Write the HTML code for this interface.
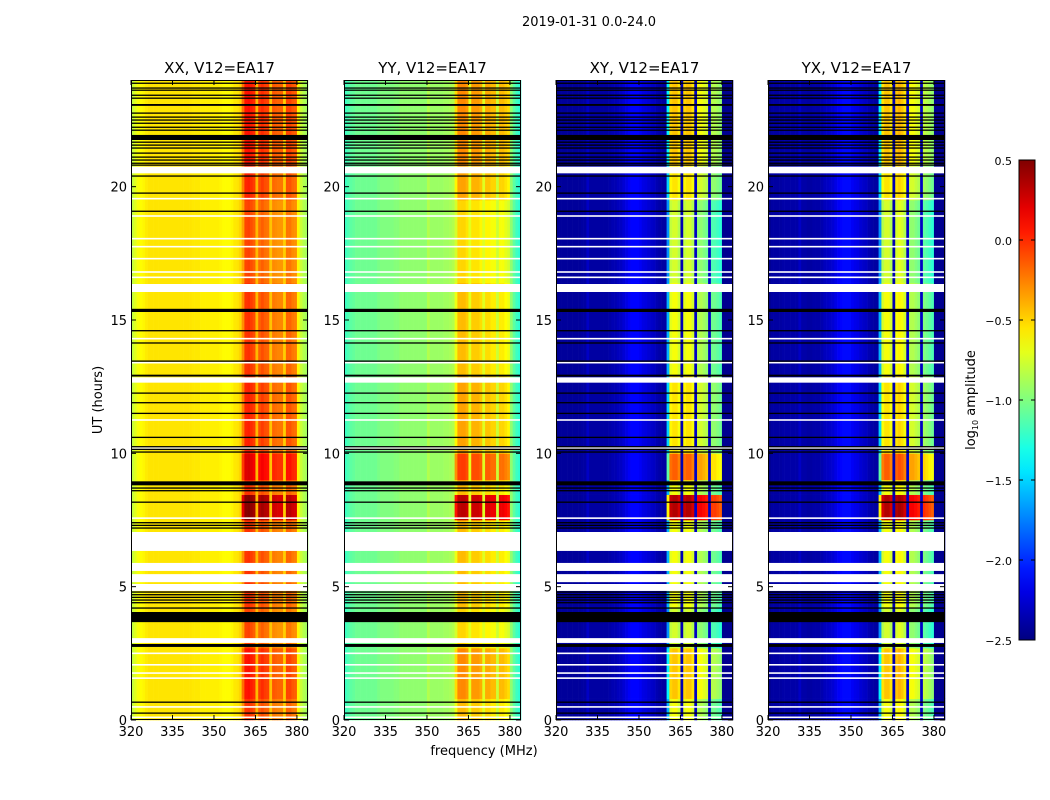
<!DOCTYPE html>
<html><head><meta charset="utf-8">
<style>
body{margin:0;background:#fff;width:1050px;height:800px;overflow:hidden;font-family:"DejaVu Sans","Liberation Sans",sans-serif;}
svg{position:absolute;left:0;top:0}
</style></head>
<body>
<svg id="fig" width="1050" height="800" xmlns="http://www.w3.org/2000/svg">
<text x="589" y="26" font-size="13" text-anchor="middle">2019-01-31 0.0-24.0</text>
<text x="484" y="755" font-size="13" text-anchor="middle">frequency (MHz)</text>
<text transform="translate(102,400) rotate(-90)" font-size="13" text-anchor="middle">UT (hours)</text>
<text transform="translate(975,400) rotate(-90)" font-size="13" text-anchor="middle">log<tspan font-size="8" dy="3">10</tspan><tspan dy="-3"> amplitude</tspan></text>
<g id="panels"></g>
<g id="cbar"></g>
</svg>
<script>
const panelTitles=["XX, V12=EA17","YY, V12=EA17","XY, V12=EA17","YX, V12=EA17"];
const xTicks=[320,335,350,365,380];
const yTicks=[0,5,10,15,20];
const cbarTicks=[0.5,0.0,-0.5,-1.0,-1.5,-2.0,-2.5];
const cbarLabels=["0.5","0.0","\u22120.5","\u22121.0","\u22121.5","\u22122.0","\u22122.5"];
const specXX=[-0.8,-0.72,-0.65,-0.62,-0.6,-0.57,-0.55,-0.55,-0.55,-0.55,
-0.55,-0.55,-0.55,-0.55,-0.55,-0.55,-0.55,-0.55,-0.55,-0.55,
-0.55,-0.55,-0.56,-0.56,-0.56,-0.58,-0.58,-0.58,-0.58,-0.58,
-0.58,-0.58,-0.6,-0.62,-0.62,-0.62,-0.6,-0.56,-0.55,-0.5,
-0.35,-0.08,-0.06,-0.1,-0.15,-0.42,-0.2,-0.15,-0.2,-0.22,
-0.45,-0.28,-0.3,-0.32,-0.32,-0.48,-0.22,-0.22,-0.28,-0.3,
-0.6,-0.78,-0.85,-0.9];
const specYY=[-1.2,-1.15,-1.1,-1.08,-1.05,-1.05,-1.05,-1.05,-1.05,-1.05,
-1.05,-1.05,-1.02,-1.0,-1.0,-1.0,-1.0,-1.0,-0.98,-0.98,
-0.95,-0.95,-0.95,-0.95,-0.95,-0.95,-0.95,-0.95,-0.95,-0.95,
-0.85,-0.92,-0.92,-0.92,-0.92,-0.92,-0.9,-0.9,-0.88,-0.85,
-0.75,-0.5,-0.5,-0.5,-0.55,-0.7,-0.55,-0.55,-0.55,-0.6,
-0.72,-0.6,-0.6,-0.65,-0.65,-0.78,-0.65,-0.65,-0.7,-0.75,
-0.95,-1.1,-1.2,-1.25];
const specXY=[-2.45,-2.42,-2.42,-2.42,-2.42,-2.42,-2.42,-2.42,-2.42,-2.4,
-2.4,-2.3,-2.4,-2.4,-2.4,-2.4,-2.4,-2.4,-2.4,-2.38,
-2.35,-2.35,-2.32,-2.3,-2.25,-2.2,-2.15,-2.12,-2.12,-2.12,
-2.15,-2.2,-2.22,-2.25,-2.28,-2.3,-2.35,-2.38,-2.4,-2.4,
-1.7,-0.8,-0.75,-0.75,-0.85,-2.35,-0.8,-0.75,-0.75,-0.85,
-2.3,-0.95,-0.95,-1.0,-1.05,-2.3,-1.15,-1.15,-1.2,-1.25,
-2.45,-2.45,-2.45,-2.45];
const specYX=[-2.45,-2.4,-2.4,-2.4,-2.4,-2.38,-2.38,-2.38,-2.38,-2.38,
-2.38,-2.3,-2.38,-2.38,-2.4,-2.4,-2.38,-2.38,-2.38,-2.36,
-2.32,-2.3,-2.28,-2.25,-2.2,-2.15,-2.12,-2.1,-2.1,-2.1,
-2.15,-2.18,-2.2,-2.25,-2.28,-2.3,-2.35,-2.38,-2.4,-2.4,
-1.7,-0.85,-0.75,-0.75,-0.85,-2.35,-0.75,-0.7,-0.75,-0.85,
-2.3,-0.95,-0.95,-1.0,-1.05,-2.3,-1.1,-1.15,-1.2,-1.25,
-2.45,-2.45,-2.45,-2.45];
const segStart=[0,0.8,2.7,4.2,7.5,8.45,9,10,12.9,16.4,19.5,20.8];
const segEnd=[0.8,2.7,4.2,7.5,8.45,9,10,12.9,16.4,19.5,20.8,24];
const segBoost=[0.05,0.15,0,0.05,0.55,0.05,0.3,0.1,0.05,0,0.1,0.15];
const panelGain=[1,1.5,2,2];
const gapStart=[6.34,5.59,5.17,4.84,2.89,20.5,16.05,12.65];
const gapEnd=[7.05,5.89,5.47,5.1,3.07,20.75,16.35,12.85];
const whiteLines=[19.55,18.9,18.05,17.75,17.3,16.8,16.6,14.3,13.4,11.25,10.2,7.57,2.5,2.07,1.76,1.57,0.49,0.1];
const blackStart=[3.67,2.74,8.8,15.3,21.75,23.03,12.88];
const blackEnd=[4.05,2.85,8.95,15.42,21.94,23.1,12.95];
const blackLines=[23.88,23.7,23.62,23.43,23.32,22.76,22.61,22.5,22.38,22.23,22.12,21.67,21.56,21.45,21.26,21.11,21.0,20.88,20.81,20.4,19.76,19.08,14.6,14.14,13.46,12.26,11.9,11.5,10.6,10.05,10.15,10.25,8.7,8.6,8.17,7.2,7.3,7.4,4.8,4.7,4.6,4.5,4.4,4.2,0.67,0.26];

const specs=[specXX,specYY,specXY,specYX];
const NS="http://www.w3.org/2000/svg";
const lefts=[131,344,556,768];
const W=177,TOP=80,BOT=720;
const F0=320,F1=384,T0=0,T1=24;
function jet(v){let x=(v+2.5)/3;x=Math.max(0,Math.min(1,x));
 const c=t=>Math.round(255*Math.max(0,Math.min(1,1.5-Math.abs(4*x-t))));
 return `rgb(${c(3)},${c(2)},${c(1)})`;}
function mk(tag,attrs,parent){const e=document.createElementNS(NS,tag);for(const k in attrs)e.setAttribute(k,attrs[k]);parent.appendChild(e);return e;}
const root=document.getElementById('panels');
panelTitles.forEach((title,p)=>{
 const L=lefts[p];
 const xs=f=>L+(f-F0)/(F1-F0)*W;
 const ys=t=>BOT-(t-T0)/(T1-T0)*(BOT-TOP);
 const g=mk('g',{},root);
 
 
 const hm=mk('g',{},g);
 
 
 const spec=specs[p];
 for(let s=0;s<segStart.length;s++){
  for(let i=0;i<spec.length;i++){
   const band=(i>=40&&i<=59&&i!==45&&i!==50&&i!==55)?1:0;
   const v=spec[i]+band*segBoost[s]*panelGain[p];
   const x0=xs(F0+i),x1=xs(F0+i+1),y0=ys(segEnd[s]),y1=ys(segStart[s]);
   const r=mk('rect',{x:x0,y:y0,width:x1-x0+0.3,height:y1-y0+0.3,fill:jet(v)},hm);
   
   
  }
 }
 for(let k=0;k<gapStart.length;k++){
  const r=mk('rect',{x:L,y:ys(gapEnd[k]),width:W,height:ys(gapStart[k])-ys(gapEnd[k]),fill:'#fff'},g);
  
  
 }
 whiteLines.forEach(t=>{const r=mk('rect',{x:L,y:ys(t)-0.8,width:W,height:1.6,fill:'#fff'},g);
  
  });
 for(let k=0;k<blackStart.length;k++){
  const r=mk('rect',{x:L,y:ys(blackEnd[k]),width:W,height:ys(blackStart[k])-ys(blackEnd[k]),fill:'#000'},g);
  
  
 }
 blackLines.forEach(t=>{const r=mk('rect',{x:L,y:ys(t)-0.6,width:W,height:1.3,fill:'#000'},g);
  
  });
 const fr=mk('rect',{x:L+0.5,y:TOP+0.5,width:W-1,height:BOT-TOP-1,fill:'none',stroke:'#000','stroke-width':1},g);
 
 
 const tt=mk('text',{x:L+W/2,y:73,'font-size':15,'text-anchor':'middle'},g);
 tt.textContent=title;
 
 
 xTicks.forEach(f=>{const x=xs(f);
  mk('line',{x1:x,x2:x,y1:BOT,y2:BOT-5,stroke:'#000'},g);
  mk('line',{x1:x,x2:x,y1:TOP,y2:TOP+5,stroke:'#000'},g);
  const t=mk('text',{x:x,y:BOT+16,'font-size':13,'text-anchor':'middle'},g);
  t.textContent=f;
  
  });
 yTicks.forEach(v=>{const y=ys(v);
  mk('line',{x1:L,x2:L+5,y1:y,y2:y,stroke:'#000'},g);
  mk('line',{x1:L+W,x2:L+W-5,y1:y,y2:y,stroke:'#000'},g);
  const t=mk('text',{x:L-4,y:y+5,'font-size':13,'text-anchor':'end'},g);
  t.textContent=v;
  
  });
});
const cb=document.getElementById('cbar');
const CX=1019,CW=16,CT=160,CB=640;
const defs=mk('defs',{},cb);
const lg=mk('linearGradient',{id:'jetg',x1:0,y1:1,x2:0,y2:0},defs);
for(let k=0;k<=20;k++){mk('stop',{offset:k/20,'stop-color':jet(-2.5+3*k/20)},lg);}
const cr=mk('rect',{x:CX,y:CT,width:CW,height:CB-CT,fill:'url(#jetg)',stroke:'#000'},cb);


const cys=v=>CB-(v+2.5)/3*(CB-CT);
cbarTicks.forEach((v,k)=>{const y=cys(v);
 mk('line',{x1:CX,x2:CX+4,y1:y,y2:y,stroke:'#000'},cb);
 mk('line',{x1:CX+CW,x2:CX+CW-4,y1:y,y2:y,stroke:'#000'},cb);
 const t=mk('text',{x:1012,y:y+5,'font-size':11,'text-anchor':'end'},cb);
 t.textContent=cbarLabels[k];
 
 });
</script>
</body></html>
